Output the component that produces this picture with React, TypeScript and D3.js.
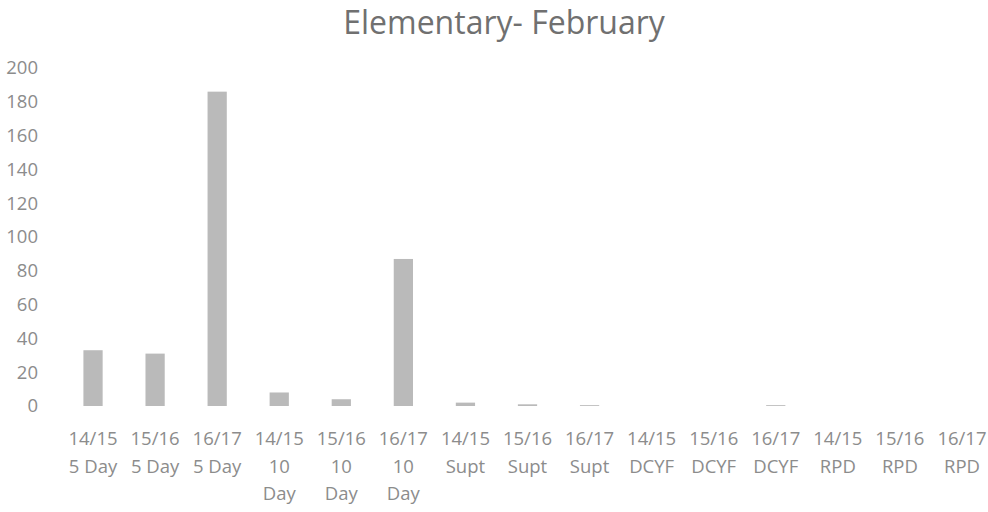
import React from 'react';
import * as d3 from 'd3';

// Categories, as the chart labels them (lines split on "\n")
const categories = [
    "14/15\n5 Day", "15/16\n5 Day", "16/17\n5 Day",
    "14/15\n10\nDay", "15/16\n10\nDay", "16/17\n10\nDay",
    "14/15\nSupt", "15/16\nSupt", "16/17\nSupt",
    "14/15\nDCYF", "15/16\nDCYF", "16/17\nDCYF",
    "14/15\nRPD", "15/16\nRPD", "16/17\nRPD",
];

const counts = [33, 31, 186, 8, 4, 87, 2, 1, 0.5, 0, 0, 0.5, 0, 0, 0];

const yTicks = [0, 20, 40, 60, 80, 100, 120, 140, 160, 180, 200];

const title = "Elementary- February";

const width = 988;
const height = 512;
const margin = { top: 68, right: -5, bottom: 106, left: 62 };

const App: React.FC = () => {
    const innerWidth = width - margin.left - margin.right;
    const innerHeight = height - margin.top - margin.bottom;

    const xScale = d3.scaleBand<string>()
        .domain(categories)
        .range([0, innerWidth])
        .paddingInner(0.69)
        .paddingOuter(0.345);

    const yScale = d3.scaleLinear()
        .domain([0, 200])
        .range([innerHeight, 0]);

    const font = "'Open Sans', sans-serif";
    const textColor = "#8c8c8c";

    return (
        <svg
            width={width}
            height={height}
            viewBox={`0 0 ${width} ${height}`}
            style={{ position: "absolute", left: 0, top: 0, background: "#fff" }}
        >
            <text
                x={504}
                y={34}
                textAnchor="middle"
                fontFamily={font}
                fontSize={32}
                fill="#707070"
            >
                {title}
            </text>

            <g transform={`translate(${margin.left},${margin.top})`}>
                {/* y tick labels, no axis line or grid */}
                {yTicks.map(t => (
                    <text
                        key={t}
                        x={-24}
                        y={yScale(t)}
                        dy="0.35em"
                        textAnchor="end"
                        fontFamily={font}
                        fontSize={18.5}
                        fill={textColor}
                    >
                        {t}
                    </text>
                ))}

                {counts.map((v, i) => (
                    <rect
                        key={categories[i]}
                        x={xScale(categories[i])}
                        y={yScale(v)}
                        width={xScale.bandwidth()}
                        height={innerHeight - yScale(v)}
                        fill="#bababa"
                    />
                ))}

                {categories.map(c => {
                    const cx = (xScale(c) ?? 0) + xScale.bandwidth() / 2;
                    return (
                        <text
                            key={c}
                            x={cx}
                            y={innerHeight + 39}
                            textAnchor="middle"
                            fontFamily={font}
                            fontSize={18.5}
                            fill={textColor}
                        >
                            {c.split("\n").map((line, j) => (
                                <tspan key={j} x={cx} dy={j === 0 ? 0 : 27.5}>{line}</tspan>
                            ))}
                        </text>
                    );
                })}
            </g>
        </svg>
    );
};

export default App;
